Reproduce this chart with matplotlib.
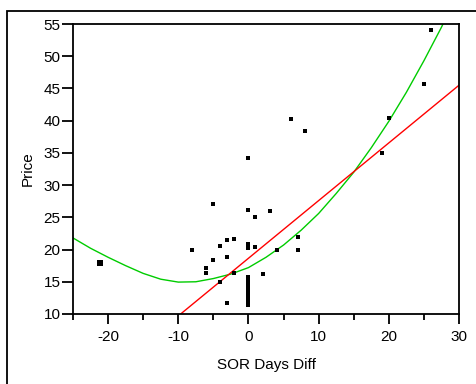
import matplotlib
matplotlib.use("Agg")
import matplotlib.pyplot as plt
from matplotlib.patches import Rectangle

plt.rcParams['font.family'] = ['Liberation Sans', 'DejaVu Sans']
plt.rcParams['axes.unicode_minus'] = False

# scatter points (SOR days diff, price)
days = [-21.25, -21.0, -21.25, -21.0, -8, -6, -6, -5, -5, -4, -4, -3, -3, -3, -2, -2,
        0, 0, 0, 0, 0, 0, 0, 0, 0, 0, 0, 0, 0, 0, 0, 0,
        1, 1, 2, 3, 4, 6, 7, 7, 8, 19, 20, 25, 26]
price = [17.75, 17.75, 18.05, 18.05, 20.0, 16.4, 17.1, 27.0, 18.4, 20.5, 15.0, 21.5, 18.9, 11.7, 21.7, 16.3,
         34.2, 26.2, 20.8, 20.3, 15.7, 15.3, 14.9, 14.5, 14.1, 13.7, 13.3, 12.9, 12.5, 12.1, 11.7, 11.4,
         25.0, 20.4, 16.2, 26.0, 20.0, 40.2, 22.0, 20.0, 38.4, 35.0, 40.4, 45.7, 54.0]

# linear fit (red)
lin_x = [-10, 30]
lin_y = [9.7, 45.5]

# quadratic fit (green)
quad_x = [-25, -22.5, -20, -17.5, -15, -12.5, -10, -7.5, -5, -2.5, 0, 2.5, 5, 7.5,
          10, 12.5, 15, 17.5, 20, 22.5, 25, 27.5, 28.5]
quad_y = [21.8, 20.2, 18.8, 17.5, 16.3, 15.4, 14.95, 15.0, 15.5, 16.2, 17.2, 18.8, 20.7, 23.0,
          25.6, 28.7, 32.0, 35.8, 39.9, 44.4, 49.3, 54.5, 56.8]

fig = plt.figure(figsize=(4.76, 3.84), dpi=100)
ax = fig.add_axes([0.1534, 0.1823, 0.8109, 0.7552])

ax.plot(quad_x, quad_y, color='#00cc00', lw=1.0)
ax.plot(lin_x, lin_y, color='#ff0000', lw=1.0)
ax.plot(days, price, 's', color='black', ms=3.2, mew=0)

ax.set_xlim(-25, 30)
ax.set_ylim(10, 55)
ax.set_xticks([-20, -10, 0, 10, 20, 30])
ax.set_xticks([-25, -15, -5, 5, 15, 25], minor=True)
ax.set_yticks(range(10, 56, 5))

ax.tick_params(axis='both', which='major', direction='out', width=1.3, labelsize=11, color='black')
ax.tick_params(axis='x', which='major', length=7.5, pad=4)
ax.tick_params(axis='x', which='minor', length=4.5, width=1.3)
ax.tick_params(axis='y', which='major', length=8, pad=1)
for s in ax.spines.values():
    s.set_linewidth(1.3)

ax.set_xlabel("SOR Days Diff", fontsize=11, labelpad=10)
ax.set_ylabel("Price", fontsize=11, labelpad=6)

# outer frame
fig.patches.append(Rectangle((0.0147, -0.2), 1.5, 0.9714 + 0.2, transform=fig.transFigure,
                             fill=False, edgecolor='black', linewidth=1.3))

fig.savefig("out.png", dpi=100)
